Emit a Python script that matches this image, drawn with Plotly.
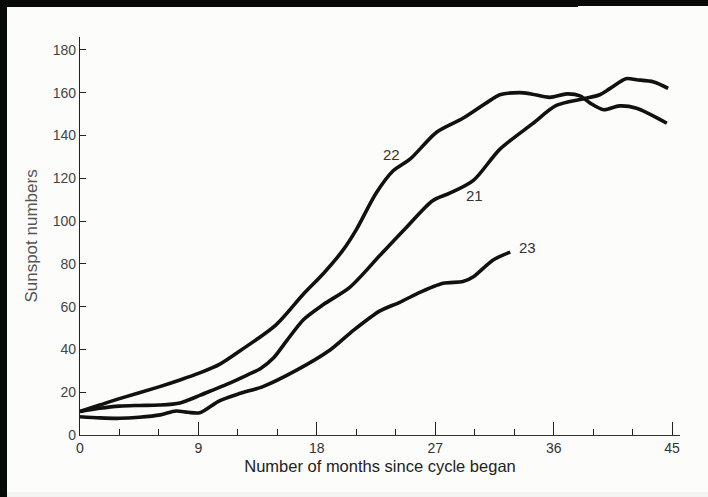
import plotly.graph_objects as go

# Sunspot numbers by month since the start of each solar cycle
months_21 = [0, 1.5, 3, 4.5, 6, 7.6, 9.1, 10.1, 11.1, 12.7, 13.7, 14.7, 15.7, 17, 18.5,
             20.5, 22.8, 24.8, 26.8, 28.1, 29.9, 31.9, 34.4, 36.2, 38.2, 39.5, 40.3,
             41.5, 42.3, 43.6, 44.7]
cycle_21 = [11, 12.5, 13.5, 13.8, 14, 15, 18.5, 21, 23.5, 28, 31, 36, 44, 54, 61,
            69, 84, 97, 109.5, 113, 119, 133.5, 145.5, 154, 157, 159, 162,
            166.5, 166, 165, 162]

months_22 = [0, 1.5, 3, 6, 7.6, 9.1, 10.6, 12.2, 14.9, 17, 18.5, 20, 21, 22.5, 23.8,
             25.1, 27.1, 29.1, 31.2, 31.9, 33.4, 34.2, 35.7, 37, 38, 38.8,
             39.8, 41, 42.3, 44.6]
cycle_22 = [11, 14, 17, 22.5, 25.7, 29, 33, 39.5, 51.5, 66, 75.5, 86.5, 96, 113, 123.5,
            129, 141.5, 148, 156.5, 159, 160, 159.5, 157.8, 159.4, 158.5, 155,
            152, 153.8, 152.7, 145.7]

months_23 = [0, 1.5, 3, 4.5, 6.1, 7.3, 8.2, 9.1, 10.6, 12.2, 13.9, 16.5, 19, 20.8,
             22.8, 24.3, 25.6, 27.6, 29.1, 29.9, 31.4, 32.7]
cycle_23 = [8.5, 8, 7.8, 8.3, 9.4, 11.2, 10.6, 10.4, 16, 19.5, 22.6, 30.4, 39.7, 49,
            58, 62, 66, 70.9, 71.7, 74, 81.8, 85.5]

cycle_names = ["21", "22", "23"]
label_pos_x = [30.0, 23.7, 34.0]
label_pos_y = [111.7, 130.9, 87.4]

x_ticks = [0, 9, 18, 27, 36, 45]
y_ticks = [0, 20, 40, 60, 80, 100, 120, 140, 160, 180]

W, H = 708, 497
ML, MR, MT, MB = 80, 28, 37, 62
PW, PH = W - ML - MR, H - MT - MB

FONT = "Liberation Sans, Arial, sans-serif"
INK = "#111111"

fig = go.Figure()
for xs, ys in [(months_21, cycle_21), (months_22, cycle_22), (months_23, cycle_23)]:
    fig.add_trace(go.Scatter(
        x=xs, y=ys, mode="lines",
        line=dict(color=INK, width=3.6, shape="spline", smoothing=0.8),
        showlegend=False, hoverinfo="skip",
    ))

for name, lx, ly in zip(cycle_names, label_pos_x, label_pos_y):
    fig.add_annotation(x=lx, y=ly, text=name, showarrow=False,
                       font=dict(family=FONT, size=15, color="#333333"))

# dark scan border along the top and left edges, faint strip at the bottom
def px_to_paper_x(px):
    return (px - ML) / PW

def px_to_paper_y(py):
    return (H - MB - py) / PH

fig.add_shape(type="rect", xref="paper", yref="paper",
              x0=px_to_paper_x(0), x1=px_to_paper_x(578), y0=px_to_paper_y(7), y1=px_to_paper_y(0),
              fillcolor="#080a08", line_width=0, layer="below")
fig.add_shape(type="rect", xref="paper", yref="paper",
              x0=px_to_paper_x(578), x1=px_to_paper_x(W), y0=px_to_paper_y(6), y1=px_to_paper_y(0),
              fillcolor="#080a08", line_width=0, layer="below")
fig.add_shape(type="rect", xref="paper", yref="paper",
              x0=px_to_paper_x(0), x1=px_to_paper_x(7), y0=px_to_paper_y(H), y1=px_to_paper_y(0),
              fillcolor="#080a08", line_width=0, layer="below")
fig.add_shape(type="rect", xref="paper", yref="paper",
              x0=px_to_paper_x(7), x1=px_to_paper_x(W), y0=px_to_paper_y(H), y1=px_to_paper_y(492),
              fillcolor="#f3f3f2", line_width=0, layer="below")

fig.update_layout(
    width=W, height=H,
    margin=dict(l=ML, r=MR, t=MT, b=MB, pad=0),
    paper_bgcolor="#fcfcfa", plot_bgcolor="rgba(0,0,0,0)",
    font=dict(family=FONT, color="#333333"),
    xaxis=dict(
        range=[0, 45.6], tickvals=x_ticks, ticktext=[str(v) for v in x_ticks],
        ticks="inside", ticklen=13, tickwidth=1.2, tickcolor="#222222",
        minor=dict(dtick=3, tick0=0, ticks="inside", ticklen=6, tickwidth=1.2, tickcolor="#222222"),
        showline=True, linecolor="#333333", linewidth=1,
        showgrid=False, zeroline=False,
        tickfont=dict(family=FONT, size=14, color="#333333"),
        title=dict(text="Number of months since cycle began", standoff=5,
                   font=dict(family=FONT, size=16.5, color="#222222")),
    ),
    yaxis=dict(
        range=[0, 186], tickvals=y_ticks, ticktext=[str(v) for v in y_ticks],
        ticks="inside", ticklen=6, tickwidth=1.2, tickcolor="#222222",
        showline=True, linecolor="#222222", linewidth=1.2,
        showgrid=False, zeroline=False,
        tickfont=dict(family=FONT, size=14, color="#444444"),
        title=dict(text="Sunspot numbers", standoff=10,
                   font=dict(family=FONT, size=17, color="#555555")),
    ),
)

fig.write_html("out.html")
